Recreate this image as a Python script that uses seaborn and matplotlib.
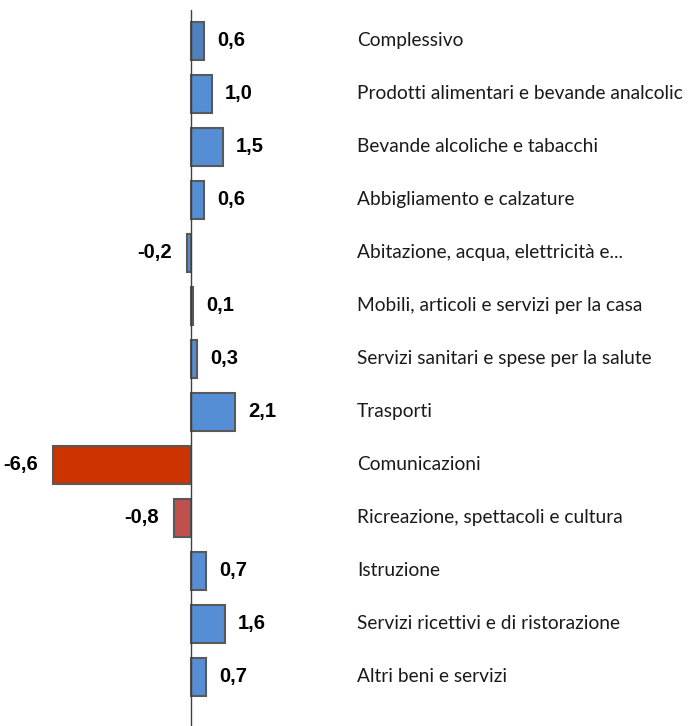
import matplotlib
matplotlib.use("Agg")
import matplotlib.pyplot as plt
import seaborn as sns
import pandas as pd

categories = [
    "Complessivo",
    "Prodotti alimentari e bevande analcolic",
    "Bevande alcoliche e tabacchi",
    "Abbigliamento e calzature",
    "Abitazione, acqua, elettricità e...",
    "Mobili, articoli e servizi per la casa",
    "Servizi sanitari e spese per la salute",
    "Trasporti",
    "Comunicazioni",
    "Ricreazione, spettacoli e cultura",
    "Istruzione",
    "Servizi ricettivi e di ristorazione",
    "Altri beni e servizi",
]
values = [0.6, 1.0, 1.5, 0.6, -0.2, 0.1, 0.3, 2.1, -6.6, -0.8, 0.7, 1.6, 0.7]
value_labels = ["0,6", "1,0", "1,5", "0,6", "-0,2", "0,1", "0,3", "2,1", "-6,6", "-0,8", "0,7", "1,6", "0,7"]
bar_colors = ["#4F81BD", "#558ED5", "#558ED5", "#558ED5", "#558ED5", "#595959", "#558ED5",
              "#558ED5", "#CC3300", "#C0504D", "#558ED5", "#558ED5", "#558ED5"]

df = pd.DataFrame({"cat": categories, "val": values})

sns.set_style("white")
plt.rcParams["font.family"] = ["Lato", "DejaVu Sans"]

fig = plt.figure(figsize=(6.89, 7.26), dpi=100)
ax = fig.add_axes([0, 0, 1, 1])
sns.barplot(data=df, y="cat", x="val", hue="cat", palette=bar_colors, orient="h",
            order=categories, hue_order=categories, legend=False, width=0.72,
            saturation=1, edgecolor="#595959", linewidth=1.5, ax=ax)

ax.set_xlim(-9.1, 23.7)
ax.set_ylim(12.93, -0.77)
for s in ax.spines.values():
    s.set_visible(False)
ax.set_xticks([])
ax.set_yticks([])
ax.set_xlabel("")
ax.set_ylabel("")
ax.plot([0, 0], [13.5, -0.59], color="#404040", linewidth=1.0, zorder=5, clip_on=False)

px = 1 / 21.0
for i, (v, lab) in enumerate(zip(values, value_labels)):
    if v >= 0:
        ax.text(v + 13 * px, i, lab, ha="left", va="center", fontsize=14.5,
                fontweight="bold", family="Liberation Sans", color="#000000")
    else:
        ax.text(v - 15 * px, i, lab, ha="right", va="center", fontsize=14.5,
                fontweight="bold", family="Liberation Sans", color="#000000")
    ax.text(166 * px, i, categories[i], ha="left", va="center", fontsize=13.8,
            color="#1a1a1a")

fig.savefig("out.png", dpi=100)
